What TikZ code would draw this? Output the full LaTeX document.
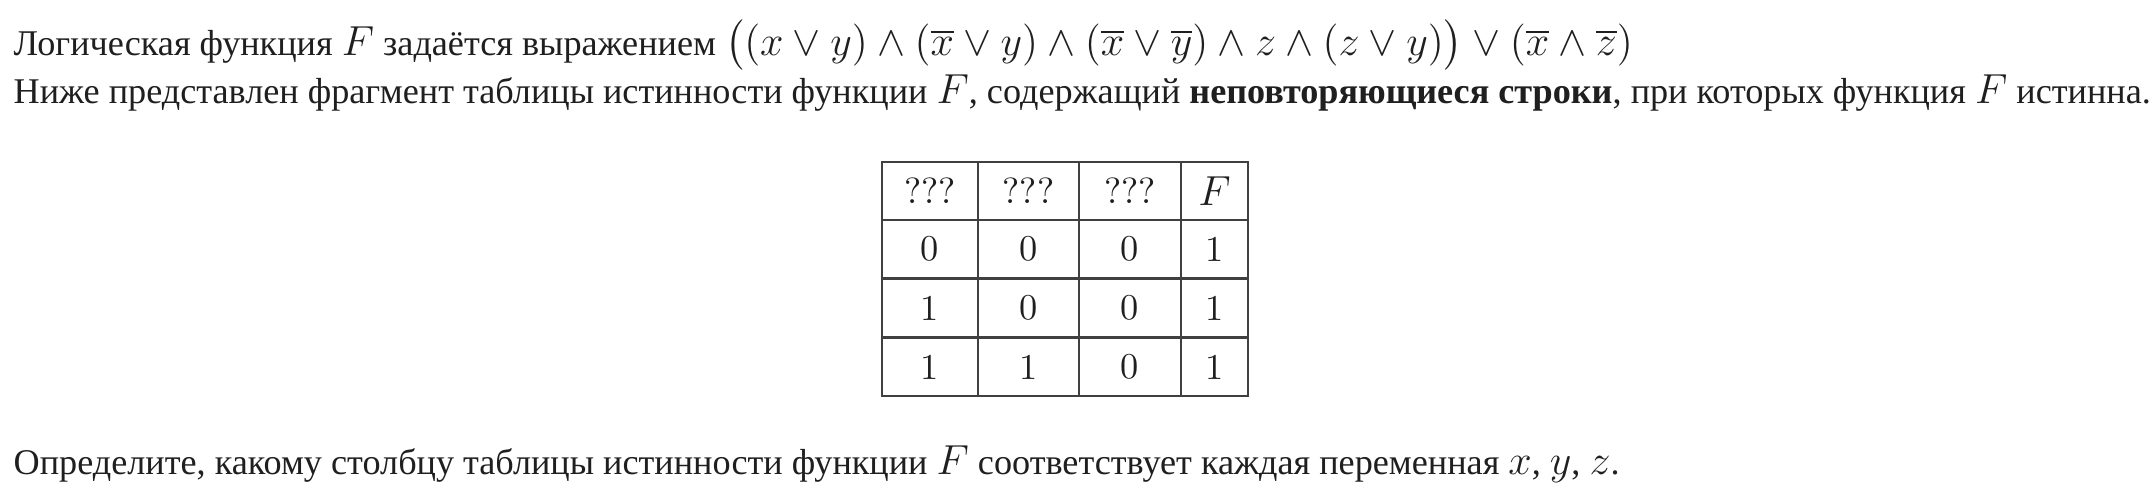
\documentclass[tikz,border=0pt]{standalone}
\usepackage[no-math]{fontspec}
\setmainfont{Liberation Serif}[Scale=0.834]
\newfontfamily\lmten{lmroman10-regular.otf}
\usepackage{amsmath}
\begin{document}
\begin{tikzpicture}[x=0.2857pt,y=-0.2857pt]
\tikzset{
  txt/.style={anchor=base west,inner sep=0pt,text=black!88,font=\fontsize{12.4}{15}\selectfont},
  cell/.style={draw=black!75,line width=0.45pt,minimum height=58*0.2857pt,inner sep=0pt,text=black!88,
    font=\fontsize{10.4}{12}\lmten},
  c1/.style={cell,minimum width=96*0.2857pt},
  c2/.style={cell,minimum width=101*0.2857pt},
  c3/.style={cell,minimum width=102*0.2857pt},
  c4/.style={cell,minimum width=67*0.2857pt}
}
\useasboundingbox (0,0) rectangle (2156,494);
\node[txt] (l1) at (13,56) {Логическая функция $F$ задаётся выражением $\big((x\vee y)\wedge(\overline{x}\vee y)\wedge(\overline{x}\vee\overline{y})\wedge z\wedge(z\vee y)\big)\vee(\overline{x}\wedge\overline{z})$};
\node[txt] (l2) at (13,104) {Ниже представлен фрагмент таблицы истинности функции $F$, содержащий \textbf{неповторяющиеся строки}, при которых функция $F$ истинна.};
\node[txt] (l3) at (13,474) {Определите, какому столбцу таблицы истинности функции $F$ соответствует каждая переменная $x$, $y$, $z$.};
% table: columns 882,978,1079,1181,1248 ; rows 162,220,278,338,396
\foreach \r/\y/\a/\b/\c/\d in {0/191/???/???/???/{\fontsize{12.4}{15}\selectfont$F$}, 1/249/0/0/0/1, 2/308/1/0/0/1, 3/367/1/1/0/1}{
  \node[c1] (t\r a) at (930,\y) {\a};
  \node[c2] (t\r b) at (1028.5,\y) {\b};
  \node[c3] (t\r c) at (1130,\y) {\c};
  \node[c4] (t\r d) at (1214.5,\y) {\d};
}
\end{tikzpicture}
\end{document}
